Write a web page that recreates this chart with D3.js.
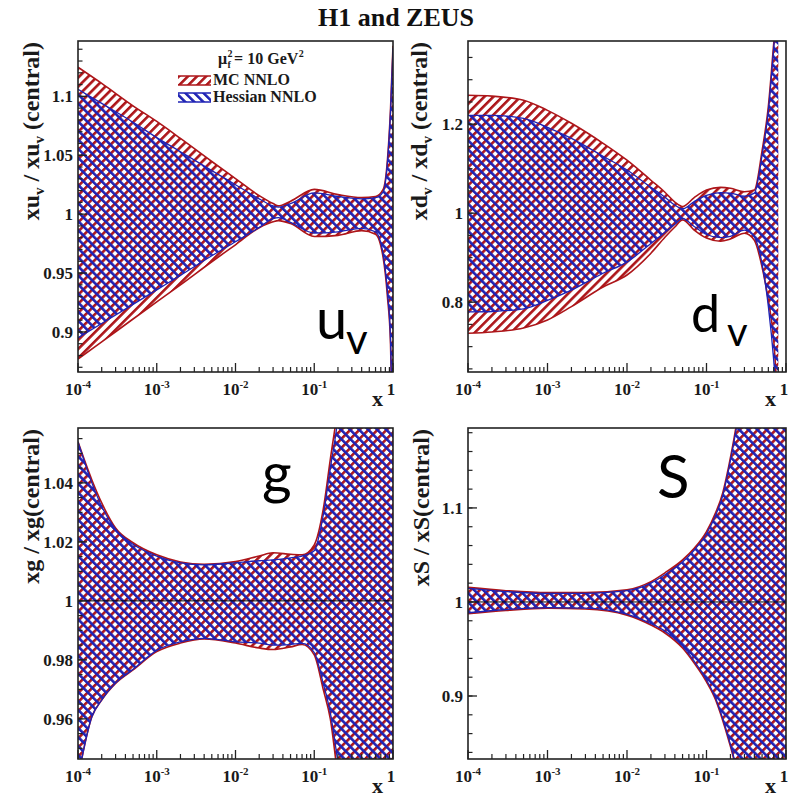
<!DOCTYPE html>
<html><head><meta charset="utf-8">
<script src="https://cdn.jsdelivr.net/npm/d3@7/dist/d3.min.js"></script>
<style>body{margin:0;background:#fff}svg{display:block}</style>
</head><body>
<script>
// ---------------- data ----------------
const xTickValues = [1e-4, 1e-3, 1e-2, 1e-1, 1];
const xTickBase = ["10", "10", "10", "10", "1"];
const xTickExp = ["-4", "-3", "-2", "-1", ""];

// u_v panel
const uvX    = [1e-4, 2e-4, 5e-4, 1e-3, 2e-3, 5e-3, 1e-2, 2e-2, 3e-2, 3.5e-2, 5e-2, 0.1, 0.2, 0.4, 0.6, 0.75, 0.85, 0.93, 1];
const uvMcUp = [1.1247, 1.111, 1.092, 1.0787, 1.0643, 1.0447, 1.0302, 1.0157, 1.009, 1.007, 1.011, 1.021, 1.0166, 1.014, 1.015, 1.021, 1.046, 1.089, 1.143];
const uvMcLo = [0.877, 0.8915, 0.911, 0.9255, 0.940, 0.9596, 0.974, 0.9885, 0.9936, 0.9945, 0.992, 0.981, 0.982, 0.986, 0.983, 0.963, 0.93, 0.89, 0.80];
const uvHeUp = [1.106, 1.094, 1.078, 1.065, 1.053, 1.037, 1.025, 1.013, 1.007, 1.006, 1.009, 1.018, 1.015, 1.013, 1.014, 1.019, 1.044, 1.087, 1.141];
const uvHeLo = [0.895, 0.9072, 0.9234, 0.9357, 0.948, 0.9647, 0.9766, 0.9887, 0.9962, 0.997, 0.993, 0.984, 0.985, 0.988, 0.985, 0.966, 0.934, 0.894, 0.80];
const uvYTicks = [0.9, 0.95, 1, 1.05, 1.1];
const uvYLabels = ["0.9", "0.95", "1", "1.05", "1.1"];

// d_v panel
const dvX    = [1e-4, 2e-4, 5e-4, 1e-3, 2e-3, 5e-3, 1e-2, 2e-2, 3e-2, 4e-2, 5e-2, 0.07, 0.1, 0.15, 0.2, 0.3, 0.4, 0.5, 0.6, 0.7, 0.8];
const dvMcUp = [1.265, 1.263, 1.254, 1.231, 1.202, 1.157, 1.119, 1.074, 1.047, 1.025, 1.015, 1.035, 1.052, 1.058, 1.056, 1.048, 1.052, 1.14, 1.24, 1.38, 1.5];
const dvMcLo = [0.730, 0.733, 0.742, 0.760, 0.790, 0.834, 0.861, 0.910, 0.946, 0.969, 0.985, 0.962, 0.944, 0.937, 0.942, 0.955, 0.939, 0.879, 0.804, 0.715, 0.55];
const dvHeUp = [1.220, 1.220, 1.213, 1.193, 1.168, 1.128, 1.097, 1.058, 1.036, 1.018, 1.010, 1.026, 1.040, 1.046, 1.045, 1.038, 1.045, 1.13, 1.23, 1.37, 1.5];
const dvHeLo = [0.778, 0.779, 0.785, 0.804, 0.827, 0.865, 0.890, 0.932, 0.957, 0.975, 0.988, 0.970, 0.952, 0.945, 0.948, 0.962, 0.946, 0.886, 0.79, 0.67, 0.52];
const dvYTicks = [0.8, 1, 1.2];
const dvYLabels = ["0.8", "1", "1.2"];

// g panel
const gX    = [1e-4, 1.5e-4, 2e-4, 3e-4, 5e-4, 1e-3, 2e-3, 4e-3, 1e-2, 2e-2, 3e-2, 5e-2, 7e-2, 0.1, 0.13, 0.16, 0.2, 0.25, 0.4, 0.6, 1];
const gMcUp = [1.0539, 1.041, 1.0332, 1.0247, 1.0197, 1.0156, 1.0132, 1.0124, 1.0133, 1.0152, 1.0163, 1.0158, 1.0156, 1.019, 1.031, 1.048, 1.066, 1.09, 1.15, 1.2, 1.3];
const gMcLo = [0.940, 0.9607, 0.9664, 0.972, 0.9766, 0.9828, 0.9857, 0.9871, 0.9857, 0.984, 0.9835, 0.9844, 0.9852, 0.9817, 0.970, 0.960, 0.940, 0.92, 0.86, 0.8, 0.7];
const gHeUp = [1.0539, 1.040, 1.032, 1.0242, 1.0192, 1.0152, 1.0129, 1.0122, 1.0129, 1.0136, 1.0139, 1.0146, 1.0152, 1.017, 1.029, 1.045, 1.062, 1.09, 1.15, 1.2, 1.3];
const gHeLo = [0.940, 0.9607, 0.9664, 0.9722, 0.9768, 0.9832, 0.9861, 0.9873, 0.9861, 0.9857, 0.985, 0.9852, 0.9856, 0.9825, 0.972, 0.962, 0.945, 0.925, 0.86, 0.8, 0.7];
const gYTicks = [0.96, 0.98, 1, 1.02, 1.04];
const gYLabels = ["0.96", "0.98", "1", "1.02", "1.04"];

// S panel
const sX    = [1e-4, 3e-4, 1e-3, 3e-3, 1e-2, 2e-2, 3e-2, 5e-2, 7e-2, 0.1, 0.13, 0.16, 0.19, 0.22, 0.26, 0.3, 0.5, 0.7, 1];
const sMcUp = [1.0155, 1.012, 1.0099, 1.0100, 1.013, 1.0216, 1.031, 1.0447, 1.057, 1.0748, 1.0947, 1.116, 1.144, 1.172, 1.21, 1.25, 1.4, 1.5, 1.6];
const sMcLo = [0.9875, 0.991, 0.9934, 0.9925, 0.986, 0.9755, 0.967, 0.951, 0.935, 0.915, 0.896, 0.874, 0.853, 0.833, 0.80, 0.77, 0.65, 0.55, 0.45];
const sHeUp = [1.0145, 1.011, 1.009, 1.0092, 1.012, 1.020, 1.029, 1.0425, 1.055, 1.0725, 1.092, 1.113, 1.141, 1.169, 1.205, 1.245, 1.4, 1.5, 1.6];
const sHeLo = [0.9885, 0.992, 0.994, 0.9935, 0.987, 0.977, 0.969, 0.953, 0.937, 0.917, 0.898, 0.876, 0.855, 0.835, 0.803, 0.773, 0.65, 0.55, 0.45];
const sYTicks = [0.9, 1, 1.1];
const sYLabels = ["0.9", "1", "1.1"];

const legendLabels = ["MC NNLO", "Hessian NNLO"];
const titleText = "H1 and ZEUS";

// ---------------- drawing ----------------
const RED = "#ad1519", BLUE = "#1e22b4";
const SERIF = "'Liberation Serif','Times New Roman',serif";
const SANS = "Lato, 'Open Sans', sans-serif";

const svg = d3.select("body").append("svg").attr("width", 793).attr("height", 798);
const defs = svg.append("defs");
function hatch(id, color, angle) {
  const p = defs.append("pattern").attr("id", id).attr("patternUnits", "userSpaceOnUse")
    .attr("width", 6.4).attr("height", 6.4).attr("patternTransform", `rotate(${angle})`);
  p.append("rect").attr("x", 0).attr("y", 0).attr("width", 2.6).attr("height", 6.4).attr("fill", color);
}
hatch("hMC", RED, 45);
hatch("hHE", BLUE, -45);

const panels = [
  {id: "uv", l: 78, t: 41, r: 393, b: 372, dom: [0.866, 1.147], yt: uvYTicks, yl: uvYLabels, minor: 0.01,
   X: uvX, mu: uvMcUp, ml: uvMcLo, hu: uvHeUp, hl: uvHeLo, one: false,
   ttl: [["xu"], ["v", 1], [" / xu"], ["v", 1], [" (central)"]], ttlX: 39,
   lab: {main: "u", sub: "v", x: 316, y: 339, sx: 346, sy: 354, fs: 56, sfs: 42}},
  {id: "dv", l: 468, t: 41, r: 786, b: 372, dom: [0.643, 1.387], yt: dvYTicks, yl: dvYLabels, minor: 0.05,
   X: dvX, mu: dvMcUp, ml: dvMcLo, hu: dvHeUp, hl: dvHeLo, one: false,
   ttl: [["xd"], ["v", 1], [" / xd"], ["v", 1], [" (central)"]], ttlX: 427,
   lab: {main: "d", sub: "v", x: 691, y: 332, sx: 727, sy: 346, fs: 52, sfs: 40}},
  {id: "g", l: 78, t: 428, r: 393, b: 759, dom: [0.9464, 1.0586], yt: gYTicks, yl: gYLabels, minor: 0.005,
   X: gX, mu: gMcUp, ml: gMcLo, hu: gHeUp, hl: gHeLo, one: true,
   ttl: [["xg / xg(central)"]], ttlX: 39,
   lab: {main: "g", sub: "", x: 262, y: 493, fs: 57}},
  {id: "S", l: 468, t: 428, r: 786, b: 759, dom: [0.833, 1.185], yt: sYTicks, yl: sYLabels, minor: 0.02,
   X: sX, mu: sMcUp, ml: sMcLo, hu: sHeUp, hl: sHeLo, one: true,
   ttl: [["xS / xS(central)"]], ttlX: 429,
   lab: {main: "S", sub: "", x: 657, y: 498, fs: 60}}
];

panels.forEach(p => {
  const x = d3.scaleLog().domain([1e-4, 1]).range([p.l, p.r]);
  const y = d3.scaleLinear().domain(p.dom).range([p.b, p.t]);
  const g = svg.append("g");
  defs.append("clipPath").attr("id", "clip-" + p.id).append("rect")
    .attr("x", p.l).attr("y", p.t).attr("width", p.r - p.l).attr("height", p.b - p.t);
  const plot = g.append("g").attr("clip-path", `url(#clip-${p.id})`);

  const mc = p.X.map((v, i) => ({x: v, hi: p.mu[i], lo: p.ml[i]}));
  const he = p.X.map((v, i) => ({x: v, hi: p.hu[i], lo: p.hl[i]}));
  const area = d3.area().x(d => x(d.x)).y0(d => y(d.lo)).y1(d => y(d.hi)).curve(d3.curveMonotoneX);
  const lineHi = d3.line().x(d => x(d.x)).y(d => y(d.hi)).curve(d3.curveMonotoneX);
  const lineLo = d3.line().x(d => x(d.x)).y(d => y(d.lo)).curve(d3.curveMonotoneX);

  plot.append("path").datum(mc).attr("d", area).attr("fill", "url(#hMC)");
  [lineHi, lineLo].forEach(f => plot.append("path").datum(mc).attr("d", f)
    .attr("fill", "none").attr("stroke", RED).attr("stroke-width", 1.6));
  plot.append("path").datum(he).attr("d", area).attr("fill", "url(#hHE)");
  [lineHi, lineLo].forEach(f => plot.append("path").datum(he).attr("d", f)
    .attr("fill", "none").attr("stroke", BLUE).attr("stroke-width", 1.3));

  if (p.one) {
    plot.append("line").attr("x1", p.l).attr("x2", p.r).attr("y1", y(1)).attr("y2", y(1))
      .attr("stroke", "#000").attr("stroke-width", 1);
  }

  // frame
  g.append("rect").attr("x", p.l).attr("y", p.t).attr("width", p.r - p.l).attr("height", p.b - p.t)
    .attr("fill", "none").attr("stroke", "#222").attr("stroke-width", 1.6);

  // y ticks
  const minors = d3.range(Math.ceil(p.dom[0] / p.minor - 1e-6), Math.floor(p.dom[1] / p.minor + 1e-6) + 1)
    .map(k => k * p.minor);
  minors.forEach(v => g.append("line").attr("x1", p.l).attr("x2", p.l + 4.5)
    .attr("y1", y(v)).attr("y2", y(v)).attr("stroke", "#222").attr("stroke-width", 1.2));
  p.yt.forEach((v, i) => {
    g.append("line").attr("x1", p.l).attr("x2", p.l + 9).attr("y1", y(v)).attr("y2", y(v))
      .attr("stroke", "#222").attr("stroke-width", 1.3);
    g.append("text").attr("x", p.l - 5).attr("y", y(v) + 6).attr("text-anchor", "end")
      .attr("font-family", SERIF).attr("font-weight", "bold").attr("font-size", 17)
      .attr("fill", "#1a1a1a").text(p.yl[i]);
  });

  // x ticks
  for (let d = -4; d < 0; d++) for (let k = 2; k <= 9; k++) {
    const v = k * Math.pow(10, d);
    g.append("line").attr("x1", x(v)).attr("x2", x(v)).attr("y1", p.b).attr("y2", p.b - 5)
      .attr("stroke", "#222").attr("stroke-width", 1.2);
  }
  xTickValues.forEach((v, i) => {
    g.append("line").attr("x1", x(v)).attr("x2", x(v)).attr("y1", p.b).attr("y2", p.b - 9)
      .attr("stroke", "#222").attr("stroke-width", 1.3);
    const t = g.append("text").attr("x", x(v) + (xTickExp[i] ? 0 : -2)).attr("y", p.b + 23)
      .attr("text-anchor", "middle").attr("font-family", SERIF).attr("font-weight", "bold")
      .attr("font-size", 17).attr("fill", "#1a1a1a");
    t.append("tspan").text(xTickBase[i]);
    if (xTickExp[i]) t.append("tspan").attr("dy", -7).attr("font-size", 11).text(xTickExp[i]);
  });

  // x title
  g.append("text").attr("x", p.r - 10).attr("y", p.b + 34).attr("text-anchor", "end")
    .attr("font-family", SERIF).attr("font-weight", "bold").attr("font-size", 22).attr("fill", "#1a1a1a").text("x");

  // y title
  const yt = g.append("text").attr("transform", `translate(${p.ttlX},${p.t + 1}) rotate(-90)`)
    .attr("text-anchor", "end").attr("font-family", SERIF).attr("font-weight", "bold")
    .attr("font-size", 24).attr("fill", "#1a1a1a");
  let shifted = false;
  p.ttl.forEach(([s, sub]) => {
    const ts = yt.append("tspan").text(s);
    if (sub) { ts.attr("font-size", 15).attr("dy", 5); shifted = true; }
    else if (shifted) { ts.attr("dy", -5); shifted = false; }
  });

  // panel label
  g.append("text").attr("x", p.lab.x).attr("y", p.lab.y).attr("font-family", SANS)
    .attr("font-size", p.lab.fs).attr("fill", "#000").text(p.lab.main);
  if (p.lab.sub) {
    g.append("text").attr("x", p.lab.sx).attr("y", p.lab.sy).attr("font-family", SANS)
      .attr("font-size", p.lab.sfs).attr("fill", "#000").text(p.lab.sub);
  }
});

// title
svg.append("text").attr("x", 396).attr("y", 26).attr("text-anchor", "middle")
  .attr("font-family", SERIF).attr("font-weight", "bold").attr("font-size", 26)
  .attr("fill", "#111").text(titleText);

// legend
const lg = svg.append("g").attr("font-family", SERIF).attr("font-weight", "bold").attr("fill", "#1a1a1a");
const mu = lg.append("text").attr("x", 218).attr("y", 64).attr("font-size", 16).text("μ");
const mw = mu.node().getComputedTextLength();
lg.append("text").attr("x", 218 + mw + 0.5).attr("y", 57).attr("font-size", 10).text("2");
lg.append("text").attr("x", 218 + mw + 0.5).attr("y", 68).attr("font-size", 10).text("f");
const eq = lg.append("text").attr("x", 218 + mw + 7).attr("y", 64).attr("font-size", 16).text("= 10 GeV");
const ew = eq.node().getComputedTextLength();
lg.append("text").attr("x", 218 + mw + 7 + ew + 0.5).attr("y", 57).attr("font-size", 10).text("2");

[["hMC", RED, 76], ["hHE", BLUE, 93]].forEach(([pat, col, yy], i) => {
  lg.append("rect").attr("x", 178).attr("y", yy).attr("width", 33).attr("height", 9).attr("fill", `url(#${pat})`);
  lg.append("line").attr("x1", 178).attr("x2", 211).attr("y1", yy).attr("y2", yy).attr("stroke", col).attr("stroke-width", 1.5);
  lg.append("line").attr("x1", 178).attr("x2", 211).attr("y1", yy + 9).attr("y2", yy + 9).attr("stroke", col).attr("stroke-width", 1.5);
  lg.append("text").attr("x", 213).attr("y", yy + 9).attr("font-size", 16).text(legendLabels[i]);
});
</script>
</body></html>
